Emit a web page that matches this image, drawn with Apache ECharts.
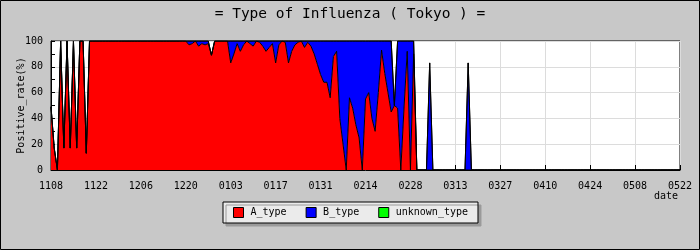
<!DOCTYPE html>
<html>
<head>
<meta charset="utf-8">
<script src="https://cdn.jsdelivr.net/npm/echarts@6/dist/echarts.min.js"></script>
<style>
html,body{margin:0;padding:0;background:#c8c8c8;}
#chart{width:700px;height:250px;}
</style>
</head>
<body>
<div id="chart"></div>
<script>
// Daily categories 2015-11-08 .. 2016-05-22 (MMDD)
var startDate = [2015, 10, 8];
var dayCount = 197;
var categories = [];
for (var d = 0; d < dayCount; d++) {
  var dt = new Date(Date.UTC(startDate[0], startDate[1], startDate[2] + d));
  var mm = ('0' + (dt.getUTCMonth() + 1)).slice(-2);
  var dd = ('0' + dt.getUTCDate()).slice(-2);
  categories.push(mm + dd);
}

var seriesNames = ['A_type', 'B_type', 'unknown_type'];

var aType = [
  49,17,0,100,17,100,17,100,17,100,
  100,13,100,100,100,100,100,100,100,100,
  100,100,100,100,100,100,100,100,100,100,
  100,100,100,100,100,100,100,100,100,100,
  100,100,100,97,98,100,96,98,97,98,
  89,100,100,100,100,100,83,90,98,92,
  97,100,98,96,100,99,96,92,95,98,
  83,97,100,99,83,92,97,99,100,95,
  99,96,90,82,74,68,68,56,88,92,
  40,20,0,56,48,35,25,0,55,60,
  40,30,60,93,75,60,45,50,48,0,
  48,92,0,90,0,0,0,0,0,0,
  0,0,0,0,0,0,0,0,0,0,
  0,0,0,0,0,0,0,0,0,0,
  0,0,0,0,0,0,0,0,0,0,
  0,0,0,0,0,0,0,0,0,0,
  0,0,0,0,0,0,0,0,0,0,
  0,0,0,0,0,0,0,0,0,0,
  0,0,0,0,0,0,0,0,0,0,
  0,0,0,0,0,0,0
];

var bType = [
  0,0,0,0,0,0,0,0,0,0,
  0,0,0,0,0,0,0,0,0,0,
  0,0,0,0,0,0,0,0,0,0,
  0,0,0,0,0,0,0,0,0,0,
  0,0,0,3,2,0,4,2,3,2,
  0,0,0,0,0,0,17,10,2,8,
  3,0,2,4,0,1,4,8,5,2,
  17,3,0,1,17,8,3,1,0,5,
  1,4,10,18,26,32,32,44,12,8,
  60,80,100,44,52,65,75,100,45,40,
  60,70,40,7,25,40,55,0,52,100,
  52,8,100,10,0,0,0,0,83,0,
  0,0,0,0,0,0,0,0,0,0,
  83,0,0,0,0,0,0,0,0,0,
  0,0,0,0,0,0,0,0,0,0,
  0,0,0,0,0,0,0,0,0,0,
  0,0,0,0,0,0,0,0,0,0,
  0,0,0,0,0,0,0,0,0,0,
  0,0,0,0,0,0,0,0,0,0,
  0,0,0,0,0,0,0
];

var unknownType = [
  0,0,0,0,0,0,0,0,0,0,
  0,0,0,0,0,0,0,0,0,0,
  0,0,0,0,0,0,0,0,0,0,
  0,0,0,0,0,0,0,0,0,0,
  0,0,0,0,0,0,0,0,0,0,
  0,0,0,0,0,0,0,0,0,0,
  0,0,0,0,0,0,0,0,0,0,
  0,0,0,0,0,0,0,0,0,0,
  0,0,0,0,0,0,0,0,0,0,
  0,0,0,0,0,0,0,0,0,0,
  0,0,0,0,0,0,0,0,0,0,
  0,0,0,0,0,0,0,0,0,0,
  0,0,0,0,0,0,0,0,0,0,
  0,0,0,0,0,0,0,0,0,0,
  0,0,0,0,0,0,0,0,0,0,
  0,0,0,0,0,0,0,0,0,0,
  0,0,0,0,0,0,0,0,0,0,
  0,0,0,0,0,0,0,0,0,0,
  0,0,0,0,0,0,0,0,0,0,
  0,0,0,0,0,0,0
];

var colors = ['#ff0000', '#0000ff', '#00ff00'];
var FONT = 'DejaVu Sans Mono';

var chart = echarts.init(document.getElementById('chart'), null, {renderer: 'canvas'});

function mkSeries(name, data, color) {
  return {
    name: name,
    type: 'line',
    stack: 'total',
    data: data,
    showSymbol: false,
    symbol: 'none',
    lineStyle: {color: '#000', width: 1},
    itemStyle: {color: color, borderColor: '#000', borderWidth: 1},
    areaStyle: {color: color, opacity: 1},
    emphasis: {disabled: true}
  };
}

chart.setOption({
  animation: false,
  backgroundColor: '#c8c8c8',
  title: {
    text: '= Type of Influenza ( Tokyo ) =',
    left: 'center',
    top: 2,
    textStyle: {fontFamily: FONT, fontSize: 14.5, fontWeight: 'normal', color: '#000'}
  },
  legend: {
    data: seriesNames,
    left: 223,
    top: 202,
    icon: 'rect',
    itemWidth: 10,
    itemHeight: 10,
    itemGap: 19,
    padding: [5, 10, 5, 10],
    backgroundColor: '#ebebeb',
    borderColor: '#000',
    borderWidth: 1,
    shadowColor: '#9a9a9a',
    shadowBlur: 0,
    shadowOffsetX: 3,
    shadowOffsetY: 3,
    itemStyle: {borderColor: '#000', borderWidth: 1},
    textStyle: {fontFamily: FONT, fontSize: 10, color: '#000', padding: [0, 0, 0, 2]}
  },
  grid: {
    left: 51,
    right: 20,
    top: 41,
    bottom: 80,
    containLabel: false,
    outerBoundsMode: 'none',
    show: true,
    backgroundColor: '#ffffff',
    borderColor: '#000',
    borderWidth: 1
  },
  xAxis: {
    type: 'category',
    data: categories,
    boundaryGap: false,
    axisLine: {lineStyle: {color: '#000', width: 1}},
    axisTick: {inside: true, length: 5, interval: 13, lineStyle: {color: '#000'}},
    axisLabel: {interval: 13, fontFamily: FONT, fontSize: 10, color: '#000', margin: 11},
    splitLine: {show: true, interval: 13, lineStyle: {color: '#dcdcdc', width: 1}}
  },
  yAxis: {
    type: 'value',
    min: 0,
    max: 100,
    interval: 20,
    name: 'Positive_rate(%)',
    nameLocation: 'middle',
    nameGap: 25,
    nameMoveOverlap: false,
    nameTextStyle: {fontFamily: FONT, fontSize: 10, color: '#000'},
    axisLine: {show: true, lineStyle: {color: '#000'}},
    axisTick: {show: true, inside: true, length: 4, lineStyle: {color: '#000'}},
    minorTick: {show: true, splitNumber: 2, length: 4, lineStyle: {color: '#000'}},
    axisLabel: {fontFamily: FONT, fontSize: 10, color: '#000', margin: 8},
    splitLine: {show: true, lineStyle: {color: '#dcdcdc', width: 1}}
  },
  graphic: [
    {
      type: 'rect',
      silent: true,
      shape: {x: 0.5, y: 0.5, width: 699, height: 249},
      style: {fill: 'none', stroke: '#000', lineWidth: 1}
    },
    {
      type: 'text',
      right: 22,
      top: 191,
      style: {text: 'date', font: '10px "DejaVu Sans Mono"', fill: '#000'}
    }
  ],
  series: [
    mkSeries(seriesNames[0], aType, colors[0]),
    mkSeries(seriesNames[1], bType, colors[1]),
    mkSeries(seriesNames[2], unknownType, colors[2])
  ]
});
</script>
</body>
</html>
